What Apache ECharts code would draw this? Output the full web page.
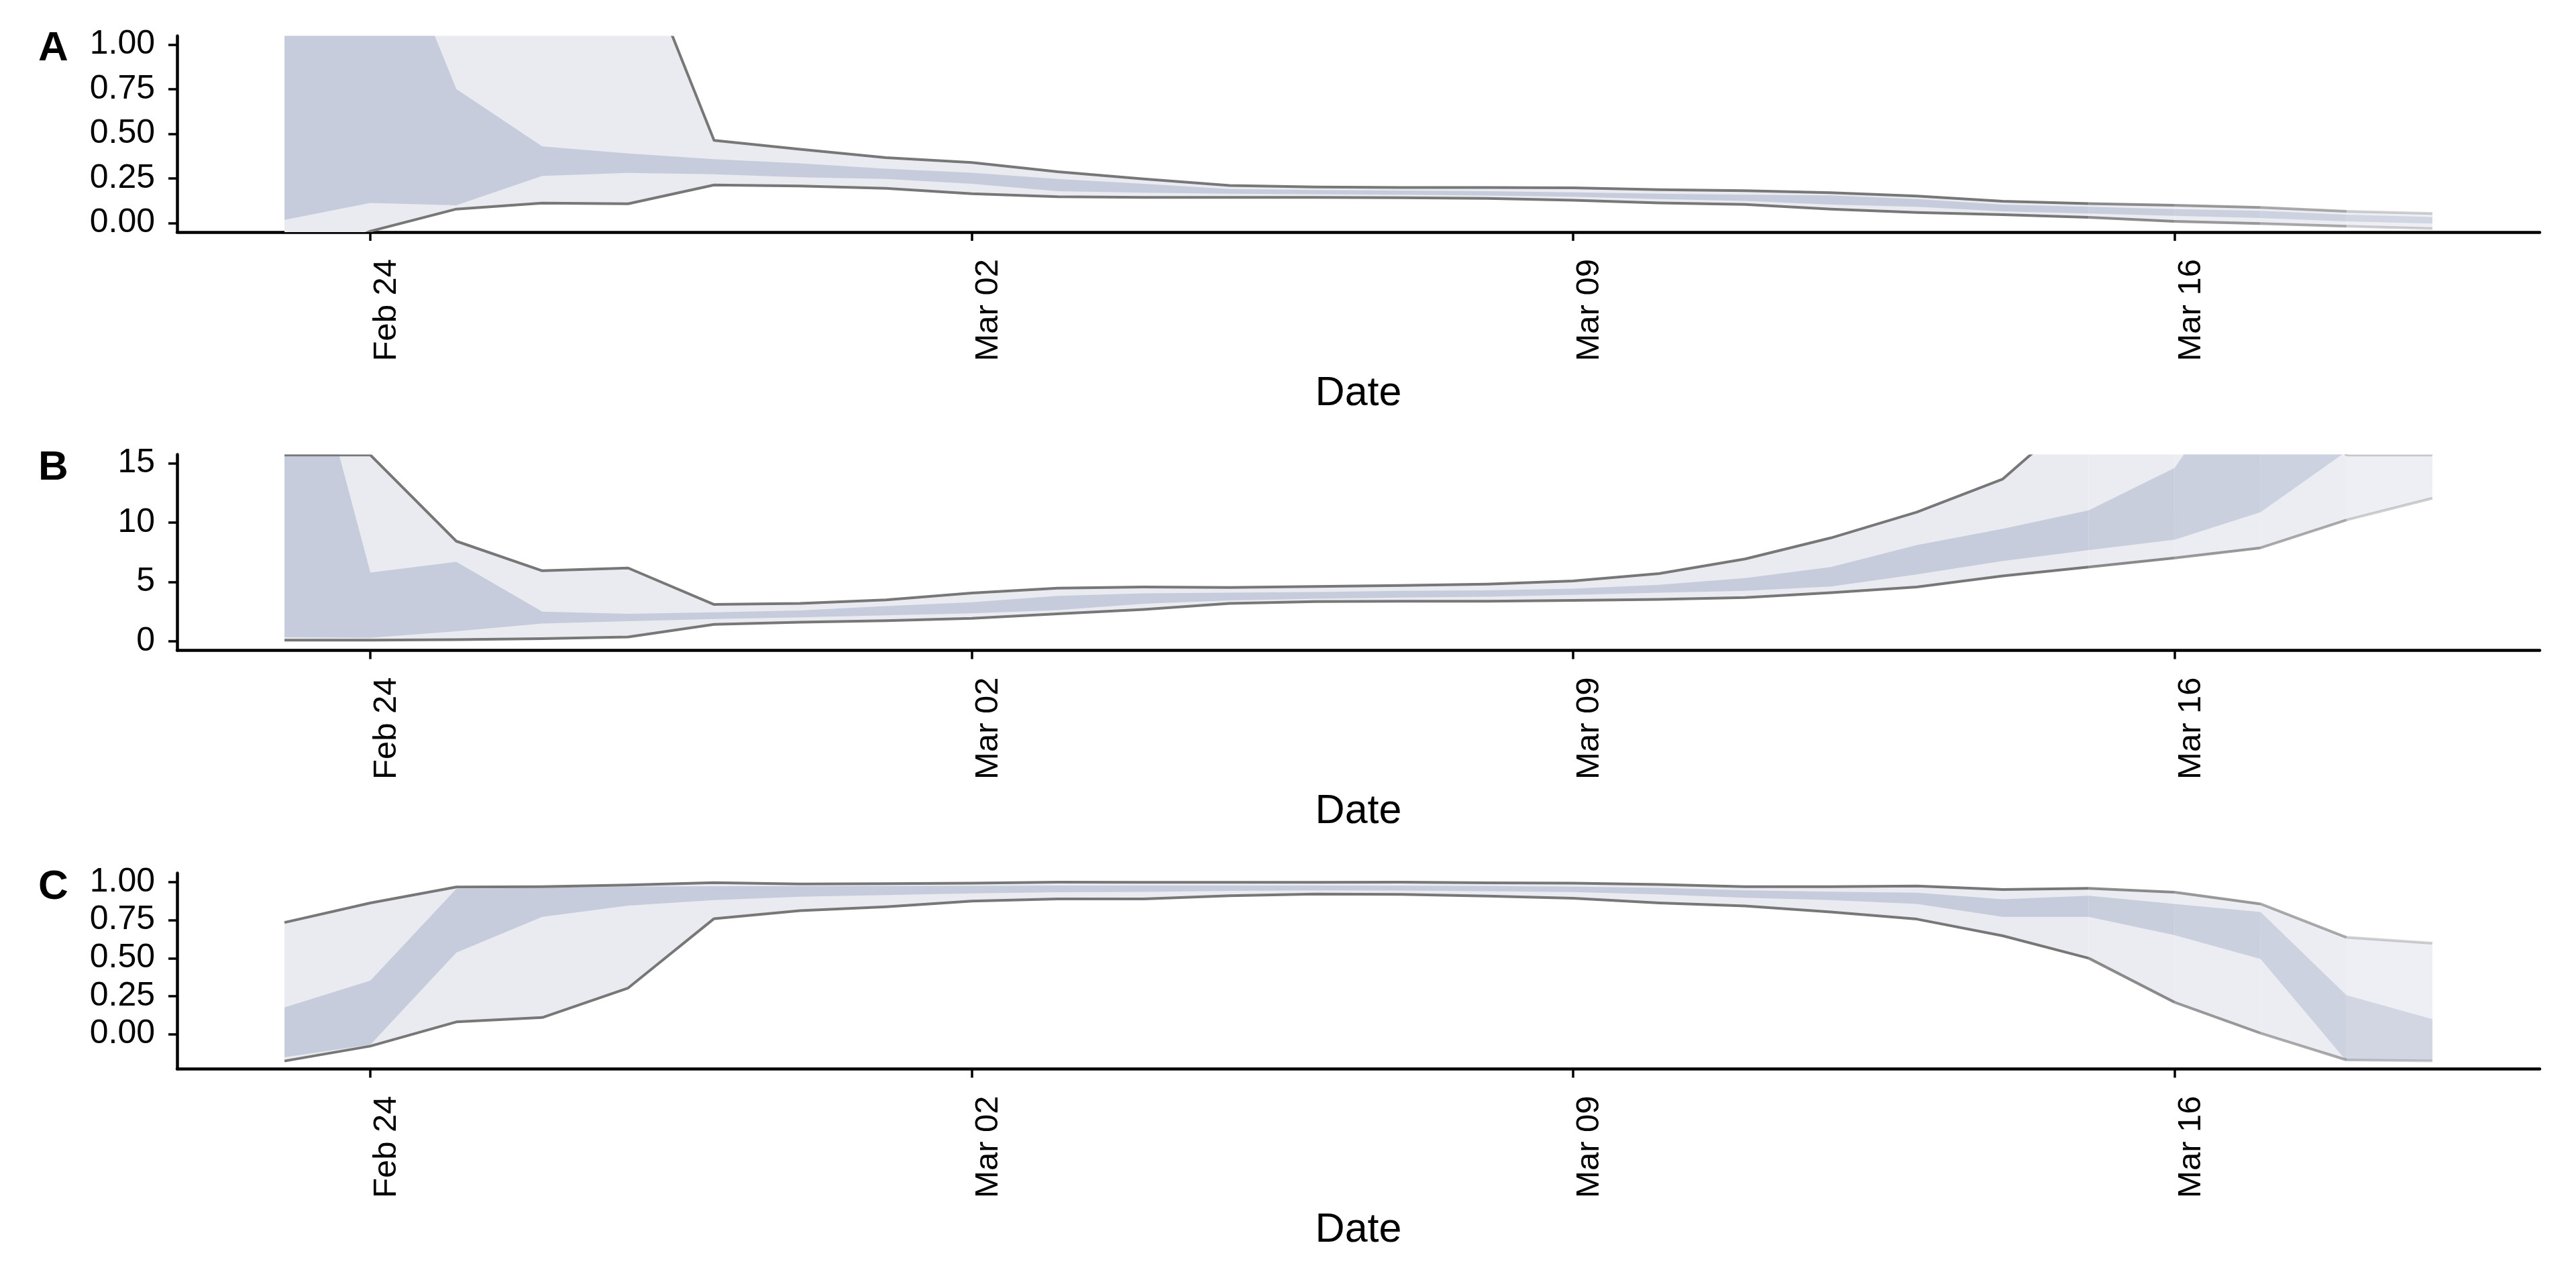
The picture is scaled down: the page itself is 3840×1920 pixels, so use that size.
<!DOCTYPE html>
<html>
<head>
<meta charset="utf-8">
<script src="https://cdn.jsdelivr.net/npm/echarts@6/dist/echarts.min.js"></script>
<style>
html,body{margin:0;padding:0;background:#ffffff;}
#chart{width:3840px;height:1920px;}
</style>
</head>
<body>
<div id="chart"></div>
<script>
// ---------------- DATA ----------------
const dates = ['2020-02-23','2020-02-24','2020-02-25','2020-02-26','2020-02-27','2020-02-28','2020-02-29',
  '2020-03-01','2020-03-02','2020-03-03','2020-03-04','2020-03-05','2020-03-06','2020-03-07','2020-03-08',
  '2020-03-09','2020-03-10','2020-03-11','2020-03-12','2020-03-13','2020-03-14','2020-03-15','2020-03-16',
  '2020-03-17','2020-03-18','2020-03-19'];

const tickDates = ['2020-02-24','2020-03-02','2020-03-09','2020-03-16'];
const tickLabels = ['Feb 24','Mar 02','Mar 09','Mar 16'];

// per-day opacity of the segment starting at that day (last days are faded)
const segmentAlpha = [1,1,1,1,1,1,1,1,1,1,1,1,1,1,1,1,1,1,1,1,1,0.85,0.74,0.62,0.34];

// Panel A
const aLo95 = [-0.25,-0.045,0.079,0.113,0.109,0.214,0.208,0.195,0.165,0.148,0.145,0.145,0.145,0.143,0.139,0.129,0.114,0.105,0.079,0.060,0.048,0.033,0.010,-0.002,-0.017,-0.030];
const aLo50 = [0.019,0.114,0.10,0.265,0.282,0.274,0.257,0.248,0.221,0.179,0.171,0.165,0.162,0.16,0.155,0.148,0.135,0.125,0.104,0.092,0.067,0.054,0.041,0.029,0.010,-0.002];
const aHi50 = [2.5,1.94,0.752,0.43,0.391,0.359,0.335,0.305,0.283,0.248,0.221,0.192,0.186,0.183,0.179,0.173,0.165,0.16,0.156,0.135,0.104,0.092,0.079,0.069,0.048,0.035];
const aHi95 = [3.0,3.0,2.8,2.3,1.67,0.464,0.414,0.367,0.340,0.288,0.248,0.211,0.203,0.2,0.2,0.198,0.188,0.182,0.171,0.152,0.123,0.110,0.100,0.088,0.067,0.054];

// Panel B
const bLo95 = [0.1,0.1,0.15,0.24,0.38,1.43,1.62,1.75,1.94,2.32,2.69,3.20,3.35,3.39,3.39,3.45,3.54,3.69,4.11,4.58,5.52,6.27,7.03,7.88,10.23,12.06];
const bLo50 = [0.34,0.3,0.85,1.51,1.70,1.88,2.03,2.19,2.37,2.64,3.17,3.45,3.60,3.69,3.77,3.92,4.11,4.26,4.62,5.65,6.78,7.69,8.57,10.89,16,18];
const bHi50 = [33,5.8,6.71,2.51,2.32,2.45,2.6,2.98,3.30,3.83,4.05,4.11,4.16,4.26,4.30,4.45,4.77,5.33,6.27,8.12,9.48,11.04,14.62,25,30,30];
const bHi95 = [15.7,15.7,8.44,5.95,6.18,3.11,3.2,3.50,4.07,4.48,4.58,4.54,4.62,4.71,4.82,5.09,5.71,6.94,8.72,10.89,13.68,20,30,30,15.7,15.7];

// Panel C
const cLo95 = [-0.176,-0.078,0.081,0.110,0.304,0.760,0.813,0.838,0.875,0.890,0.890,0.911,0.922,0.919,0.909,0.894,0.863,0.843,0.804,0.757,0.647,0.500,0.210,0.007,-0.169,-0.176];
const cLo50 = [-0.151,-0.069,0.537,0.772,0.846,0.882,0.904,0.915,0.926,0.934,0.936,0.943,0.946,0.945,0.941,0.935,0.919,0.897,0.882,0.857,0.772,0.772,0.652,0.495,-0.176,-0.176];
const cHi50 = [0.176,0.353,0.956,0.963,0.97,0.974,0.974,0.975,0.976,0.978,0.978,0.978,0.978,0.977,0.975,0.97,0.962,0.946,0.937,0.931,0.887,0.911,0.857,0.804,0.257,0.099];
const cHi95 = [0.735,0.863,0.968,0.970,0.981,0.997,0.988,0.99,0.993,1.0,0.999,0.999,0.999,1.0,0.996,0.993,0.985,0.970,0.970,0.975,0.951,0.959,0.934,0.857,0.637,0.599];

const yTicksA = [0, 0.25, 0.5, 0.75, 1];
const yTicksB = [0, 5, 10, 15];
const yTicksC = [0, 0.25, 0.5, 0.75, 1];

// ---------------- HELPERS ----------------
const DAY = 86400000;
const origin = Date.parse(tickDates[0]);
const xDays = dates.map(d => (Date.parse(d) - origin) / DAY);
const xTickVals = tickDates.map(d => (Date.parse(d) - origin) / DAY);

const OUTER = [233, 235, 241];
const INNER = [198, 204, 219];
const LINE = [119, 119, 119];
function fadeColor(c, r) {
  return 'rgb(' + c.map(v => Math.round(255 - r * (255 - v))).join(',') + ')';
}

// group consecutive segments with the same alpha
const groups = [];
(function () {
  let s = 0;
  for (let i = 1; i <= segmentAlpha.length; i++) {
    if (i === segmentAlpha.length || segmentAlpha[i] !== segmentAlpha[s]) {
      groups.push([s, i, segmentAlpha[s]]);
      s = i;
    }
  }
})();

function ribbonSeries(idx, lo95, lo50, hi50, hi95) {
  return {
    type: 'custom',
    xAxisIndex: idx,
    yAxisIndex: idx,
    clip: true,
    silent: true,
    data: groups,
    encode: { x: 0, y: 1 },
    renderItem: function (params, api) {
      const s = api.value(0), e = api.value(1), a = api.value(2);
      const rFade = 1 - 0.3 * (1 - a);
      const pts = (arr) => { const p = []; for (let j = s; j <= e; j++) p.push(api.coord([xDays[j], arr[j]])); return p; };
      const band = (lo, hi) => pts(lo).concat(pts(hi).reverse());
      return {
        type: 'group',
        children: [
          { type: 'polygon', z2: 1, shape: { points: band(lo95, hi95) }, style: { fill: fadeColor(OUTER, rFade) } },
          { type: 'polygon', z2: 2, shape: { points: band(lo50, hi50) }, style: { fill: fadeColor(INNER, rFade) } },
          { type: 'polyline', z2: 3, shape: { points: pts(hi95) }, style: { fill: null, stroke: 'rgba(' + LINE.join(',') + ',' + a + ')', lineWidth: 4, lineJoin: 'round' } },
          { type: 'polyline', z2: 3, shape: { points: pts(lo95) }, style: { fill: null, stroke: 'rgba(' + LINE.join(',') + ',' + a + ')', lineWidth: 4, lineJoin: 'round' } }
        ]
      };
    }
  };
}

const FONT = "'Liberation Sans', Arial, Helvetica, sans-serif";
const grids = [
  { left: 264, right: 54, top: 53.4, height: 292.6 },
  { left: 264, right: 54, top: 677.4, height: 292 },
  { left: 264, right: 54, top: 1301.4, height: 292 }
];

function xAxisDef(i) {
  return {
    type: 'value', gridIndex: i, min: -2.25, max: 25.25,
    name: 'Date', nameLocation: 'middle', nameGap: 241,
    nameTextStyle: { fontFamily: FONT, fontSize: 61, color: '#000', verticalAlign: 'middle' },
    axisLine: { show: true, onZero: false, lineStyle: { color: '#000', width: 4.5 } },
    axisTick: { show: true, customValues: xTickVals, length: 13, lineStyle: { color: '#000', width: 3.5 } },
    axisLabel: {
      show: true, customValues: xTickVals, rotate: 90, margin: 40,
      align: 'right', verticalAlign: 'top',
      fontFamily: FONT, fontSize: 49, color: '#000',
      formatter: v => { const k = xTickVals.indexOf(v); return k >= 0 ? tickLabels[k] : ''; }
    },
    splitLine: { show: false }
  };
}
function yAxisDef(i, min, max, ticks, dec) {
  return {
    type: 'value', gridIndex: i, min: min, max: max,
    axisLine: { show: true, onZero: false, lineStyle: { color: '#000', width: 4.5 } },
    axisTick: { show: true, customValues: ticks, length: 13, lineStyle: { color: '#000', width: 3.5 } },
    axisLabel: {
      show: true, customValues: ticks, margin: 33,
      fontFamily: FONT, fontSize: 50, color: '#000',
      formatter: v => v.toFixed(dec)
    },
    splitLine: { show: false }
  };
}

const chart = echarts.init(document.getElementById('chart'), null, { renderer: 'canvas', width: 3840, height: 1920 });
chart.setOption({
  animation: false,
  backgroundColor: '#ffffff',
  grid: grids,
  xAxis: [xAxisDef(0), xAxisDef(1), xAxisDef(2)],
  yAxis: [
    yAxisDef(0, -0.05, 1.05, yTicksA, 2),
    yAxisDef(1, -0.75, 15.75, yTicksB, 0),
    yAxisDef(2, -0.228, 1.06, yTicksC, 2)
  ],
  graphic: [
    { type: 'text', left: 57, top: 42, style: { text: 'A', font: 'bold 62px ' + FONT, fill: '#000' } },
    { type: 'text', left: 57, top: 667, style: { text: 'B', font: 'bold 62px ' + FONT, fill: '#000' } },
    { type: 'text', left: 57, top: 1292, style: { text: 'C', font: 'bold 62px ' + FONT, fill: '#000' } }
  ],
  series: [
    ribbonSeries(0, aLo95, aLo50, aHi50, aHi95),
    ribbonSeries(1, bLo95, bLo50, bHi50, bHi95),
    ribbonSeries(2, cLo95, cLo50, cHi50, cHi95)
  ]
});
</script>
</body>
</html>
